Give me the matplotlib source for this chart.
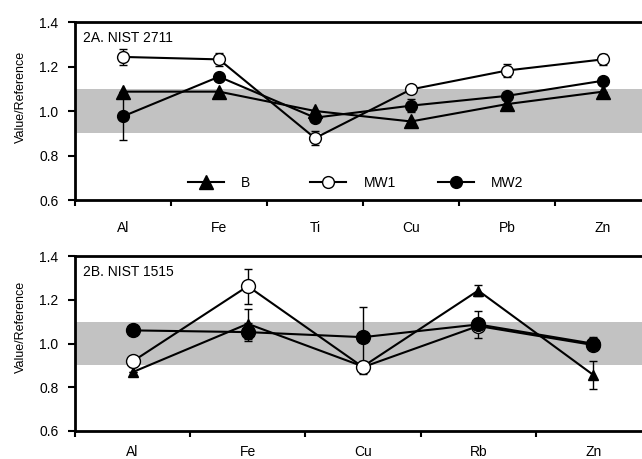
#!/usr/bin/env python3
# Two-panel recovery plot: measured/reference ratios for NIST 2711 and
# NIST 1515 under three digestion methods (B, MW1, MW2).

import matplotlib
matplotlib.use("Agg")
from matplotlib import pyplot as plt
from matplotlib.legend import Legend

import numpy as np

plt.rcParams["font.family"] = ["Liberation Sans", "DejaVu Sans"]

# Panel A: NIST 2711
ELEM_A = ["Al", "Fe", "Ti", "Cu", "Pb", "Zn"]
B_A = [1.087, 1.087, 1.0, 0.953, 1.031, 1.087]
B_A_ERR = [0.0, 0.0, 0.0, 0.0, 0.0, 0.0]
MW1_A = [1.243, 1.232, 0.878, 1.097, 1.182, 1.232]
MW1_A_ERR = [0.035, 0.03, 0.03, 0.0, 0.03, 0.025]
MW2_A = [0.976, 1.154, 0.97, 1.024, 1.068, 1.136]
MW2_A_ERR = [0.105, 0.0, 0.0, 0.03, 0.0, 0.0]

# Panel B: NIST 1515
ELEM_B = ["Al", "Fe", "Cu", "Rb", "Zn"]
B_B = [0.869, 1.09, 0.895, 1.242, 0.856]
B_B_ERR = [0.0, 0.07, 0.0, 0.025, 0.062]
MW1_B = [0.918, 1.262, 0.892, 1.08, 0.993]
MW1_B_ERR = [0.025, 0.08, 0.03, 0.0, 0.0]
MW2_B = [1.06, 1.052, 1.029, 1.087, 0.999]
MW2_B_ERR = [0.0, 0.04, 0.14, 0.06, 0.03]

BAND = (0.9, 1.1)

W, H = 642, 459

# left edge of each legend entry, in axes fraction
LEGEND_X = [0.196, 0.408, 0.630]


def panel(fig, rect, elems, series, title, tri_size, circ_size, legend,
          xpad, ylab_y):
    ax = fig.add_axes(rect)
    n = len(elems)
    x = np.arange(n) + 0.5
    ax.axhspan(BAND[0], BAND[1], color="#c2c2c2", lw=0, zorder=0)
    handles = []
    labels = []
    for label, vals, errs, marker, face in series:
        ms = tri_size if marker == "^" else circ_size
        h = ax.errorbar(x, vals, yerr=errs, color="black", lw=1.5,
                        marker=marker, ms=ms, mfc=face, mec="black", mew=1.0,
                        elinewidth=1.0, capsize=3, capthick=1.0, zorder=3)
        handles.append(h[0])
        labels.append(label)
    ax.set_xlim(0, n)
    ax.set_ylim(0.6, 1.4)
    ax.set_xticks(np.arange(n + 1))
    ax.set_xticklabels([])
    ax.set_xticks(x, minor=True)
    ax.set_xticklabels(elems, minor=True, fontsize=10)
    ax.tick_params(axis="x", which="minor", length=0, pad=xpad)
    ax.tick_params(axis="x", which="major", direction="out", length=4,
                   width=1.5)
    ax.set_yticks([0.6, 0.8, 1.0, 1.2, 1.4])
    ax.set_yticklabels(["0.6", "0.8", "1.0", "1.2", "1.4"])
    ax.tick_params(axis="y", direction="out", length=5, width=1.5,
                   labelsize=10, pad=7)
    for s in ax.spines.values():
        s.set_linewidth(2)
    ax.set_ylabel("Value/Reference", fontsize=9)
    ax.yaxis.set_label_coords(-0.083, ylab_y)
    ax.text(0.014, 0.95, title, transform=ax.transAxes, fontsize=10,
            ha="left", va="top")
    if legend:
        # one legend per entry so the spacing follows the original
        for hdl, lab, lx in zip(handles, labels, LEGEND_X):
            leg = Legend(ax, [hdl], [lab], frameon=False, fontsize=10,
                         loc="center left", bbox_to_anchor=(lx, 0.095),
                         borderpad=0, borderaxespad=0,
                         handlelength=2.6, handletextpad=1.25)
            ax.add_artist(leg)
    return ax


def rect(left, top, right, bottom):
    return [left / W, 1 - bottom / H, (right - left) / W, (bottom - top) / H]


fig = plt.figure(figsize=(W / 100, H / 100), dpi=100)

series_a = [("B", B_A, B_A_ERR, "^", "black"),
            ("MW1", MW1_A, MW1_A_ERR, "o", "white"),
            ("MW2", MW2_A, MW2_A_ERR, "o", "black")]
series_b = [("B", B_B, B_B_ERR, "^", "black"),
            ("MW1", MW1_B, MW1_B_ERR, "o", "white"),
            ("MW2", MW2_B, MW2_B_ERR, "o", "black")]

panel(fig, rect(75, 22, 651, 200), ELEM_A, series_a, "2A. NIST 2711",
      10, 8.5, True, 15, 0.579)
panel(fig, rect(75, 256, 651, 431), ELEM_B, series_b, "2B. NIST 1515",
      7, 10, False, 10, 0.594)

fig.savefig("out.png", dpi=100)
